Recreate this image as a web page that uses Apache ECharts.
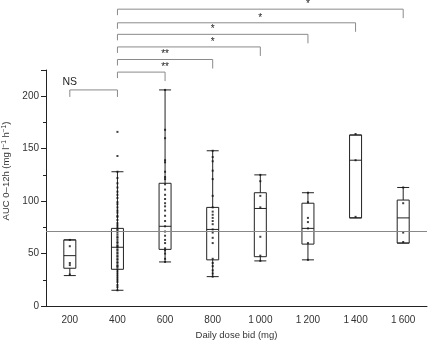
<!DOCTYPE html>
<html>
<head>
<meta charset="utf-8">
<script src="https://cdn.jsdelivr.net/npm/echarts@6/dist/echarts.min.js"></script>
<style>
  html, body { margin: 0; padding: 0; background: #fff; }
  #chart { width: 429px; height: 343px; }
</style>
</head>
<body>
<div id="chart"></div>
<script>
// dose groups on the x axis
var doses = ['200', '400', '600', '800', '1\u2009000', '1\u2009200', '1\u2009400', '1\u2009600'];

// boxes: [min, Q1, median, Q3, max]
var boxes = [
  [29, 36, 48, 63, 63],
  [15, 35, 56, 74, 128],
  [42, 54, 76, 117, 206],
  [28, 44, 73, 94, 148],
  [43, 47, 93, 108, 125],
  [44, 59, 74, 98, 108],
  [84, 84, 139, 163, 163],
  [60, 60, 84, 101, 113]
];

// individual patients per dose group
var pts200 = [63, 57, 41, 39, 30];
var pts400 = [166, 143, 128, 122, 117, 113, 109, 106, 103, 99, 97, 94, 91, 89, 86, 85, 82, 79, 77, 75, 73, 72, 70, 68, 66, 65, 63, 61, 60, 58, 57, 56, 54, 53, 51, 50, 48, 47, 45, 44, 42, 41, 39, 38, 37, 35, 33, 31, 29, 27, 25, 23, 20, 18, 15];
var pts600 = [206, 168, 160, 139, 137, 128, 123, 121, 116, 111, 106, 102, 98, 95, 91, 86, 81, 76, 71, 67, 63, 60, 55, 53, 50, 45, 42];
var pts800 = [148, 142, 138, 129, 121, 105, 94, 90, 87, 84, 81, 78, 73, 70, 65, 60, 45, 41, 38, 34, 31, 28];
var pts1000 = [125, 119, 105, 94, 66, 48, 43];
var pts1200 = [108, 99, 84, 80, 74, 60, 44];
var pts1400 = [164, 139, 85];
var pts1600 = [113, 98, 70, 61];
var points = [pts200, pts400, pts600, pts800, pts1000, pts1200, pts1400, pts1600];

// reference level (horizontal line)
var target = 71;

// significance brackets: [from group, to group, level, label, label position]
var brackets = [
  [0, 1, 206, 'NS', 0.48],
  [1, 2, 223, '**', 1.64],
  [1, 3, 235, '**', 2.2],
  [1, 4, 247, '*', 2.96],
  [1, 5, 259, '*', 3.49],
  [1, 6, 270, '*', 3.96],
  [1, 7, 283, '*', 4.5]
];

var ink = '#222';
var font = 'Liberation Sans, Arial, sans-serif';

var scatterData = [];
points.forEach(function(list, i) {
  list.forEach(function(v) { scatterData.push([i, v]); });
});

var chart = echarts.init(document.getElementById('chart'), null, { renderer: 'canvas' });

chart.setOption({
  animation: false,
  backgroundColor: '#fff',
  grid: { left: 46, right: 2, top: 70, bottom: 37, containLabel: false, outerBoundsMode: 'none' },
  xAxis: {
    type: 'category',
    data: doses,
    boundaryGap: true,
    name: 'Daily dose bid (mg)',
    nameLocation: 'middle',
    nameGap: 22,
    nameTextStyle: { color: '#333', fontSize: 9.5, fontFamily: font },
    axisLine: { lineStyle: { color: ink, width: 1 } },
    axisTick: { inside: true, length: 4, interval: 0, lineStyle: { color: ink } },
    axisLabel: { color: '#333', fontSize: 10, fontFamily: font, margin: 9, interval: 0 },
    splitLine: { show: false }
  },
  yAxis: {
    type: 'value',
    min: 0,
    max: 225,
    interval: 50,
    name: 'AUC 0\u201312h (mg l{s|\u22121} h{s|\u22121})',
    nameLocation: 'middle',
    nameGap: 31,
    nameRotate: 90,
    nameTextStyle: {
      color: '#333', fontSize: 9.5, fontFamily: font,
      padding: [0, 0, 0, 34],
      rich: { s: { fontSize: 6.5, fontFamily: font, color: '#333', verticalAlign: 'top', padding: [0, 0, 5, 0] } }
    },
    axisLine: { show: true, lineStyle: { color: ink, width: 1 } },
    axisTick: { show: true, length: 5, lineStyle: { color: ink } },
    minorTick: { show: true, splitNumber: 2, length: 3, lineStyle: { color: ink } },
    axisLabel: { color: '#333', fontSize: 10, fontFamily: font, margin: 7, showMaxLabel: false },
    splitLine: { show: false }
  },
  series: [
    {
      type: 'boxplot',
      data: boxes,
      boxWidth: [12, 12],
      itemStyle: { color: '#fff', borderColor: ink, borderWidth: 1 },
      markLine: {
        silent: true,
        symbol: 'none',
        label: { show: false },
        lineStyle: { color: '#888', type: 'solid', width: 1 },
        data: [{ yAxis: target }]
      },
      z: 2
    },
    {
      type: 'scatter',
      data: scatterData,
      symbol: 'rect',
      symbolSize: 2,
      itemStyle: { color: '#111' },
      z: 3
    },
    {
      type: 'custom',
      data: brackets.map(function(b) { return [b[0], b[1], b[2], b[4]]; }),
      encode: { x: [0, 1, 3], y: 2 },
      clip: false,
      z: 4,
      renderItem: function(params, api) {
        var b = brackets[params.dataIndex];
        var p1 = api.coord([api.value(0), api.value(2)]);
        var p2 = api.coord([api.value(1), api.value(2)]);
        var pl = api.coord([api.value(3), api.value(2)]);
        var ns = b[3] === 'NS';
        var dropL = ns ? 7 : 6;
        var dropR = ns ? 7 : 9;
        return {
          type: 'group',
          children: [
            {
              type: 'polyline',
              shape: { points: [[p1[0], p1[1] + dropL], [p1[0], p1[1]], [p2[0], p1[1]], [p2[0], p1[1] + dropR]] },
              style: { stroke: '#8a8a8a', fill: null, lineWidth: 1 }
            },
            {
              type: 'text',
              x: pl[0],
              y: p1[1] - (ns ? 2 : 0),
              style: {
                text: b[3],
                fill: '#222',
                font: (ns ? '10.5px ' : '10px ') + font,
                align: 'center',
                verticalAlign: 'bottom'
              }
            }
          ]
        };
      }
    }
  ]
});

window.addEventListener('resize', function() { chart.resize(); });
</script>
</body>
</html>
